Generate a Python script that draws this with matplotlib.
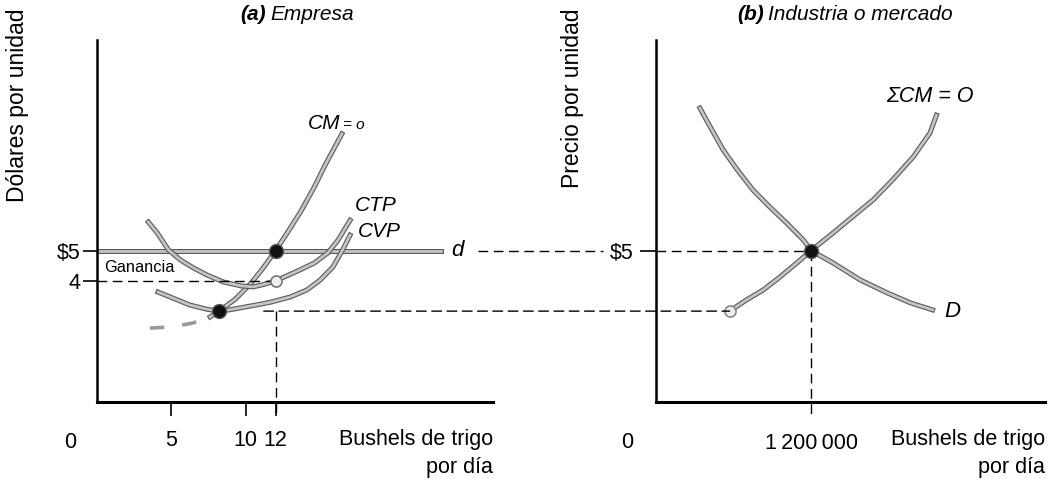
import matplotlib.pyplot as plt
import matplotlib.patheffects as pe
from matplotlib.patches import ConnectionPatch

plt.rcParams["font.family"] = ["Liberation Sans", "DejaVu Sans"]

# (a) empresa: cantidades en bushels/dia, precios en $
cm_x = [3.55, 5.1, 6.45, 7.6, 8.2, 9.3, 10.4, 11.2, 12.0, 12.8, 13.7, 14.6, 15.3, 15.9, 16.45]
cm_y = [2.44, 2.48, 2.61, 2.81, 3.0, 3.4, 3.95, 4.45, 5.0, 5.6, 6.3, 7.1, 7.8, 8.35, 8.85]
ctp_x = [3.45, 4.05, 4.8, 5.6, 6.5, 7.4, 8.5, 9.7, 10.5, 11.2, 12.0, 13.5, 14.6, 15.5, 16.2, 17.0]
ctp_y = [5.94, 5.58, 5.02, 4.69, 4.42, 4.19, 3.96, 3.83, 3.80, 3.88, 4.0, 4.33, 4.59, 4.92, 5.35, 6.0]
cvp_x = [4.1, 5.1, 6.25, 7.4, 8.2, 9.0, 10.1, 11.0, 11.7, 13.0, 14.1, 15.0, 15.85, 16.5, 17.0]
cvp_y = [3.63, 3.43, 3.20, 3.06, 3.0, 3.05, 3.15, 3.23, 3.30, 3.47, 3.70, 4.03, 4.46, 5.02, 5.51]
precio = 5
d_x = [0, 23.1]
q_firma = 12
ctp_q = 4
cvp_min = (8.2, 3.0)
xticks_a = [5, 10, 12]
yticks_a = [4, 5]
yticklabels_a = ["4", "$5"]

# (b) industria: cantidades en millones de bushels/dia
dem_x = [0.34, 0.42, 0.52, 0.63, 0.75, 0.88, 1.01, 1.14, 1.2, 1.37, 1.58, 1.79, 1.97, 2.14]
dem_y = [9.70, 9.08, 8.32, 7.66, 7.0, 6.44, 5.91, 5.35, 5.0, 4.59, 4.03, 3.60, 3.27, 3.04]
ofe_x = [0.57, 0.70, 0.83, 0.96, 1.09, 1.2, 1.37, 1.52, 1.68, 1.83, 1.99, 2.12, 2.17]
ofe_y = [3.0, 3.37, 3.70, 4.13, 4.59, 5.0, 5.58, 6.11, 6.67, 7.33, 8.09, 8.88, 9.47]
q_mercado = 1.2

fig = plt.figure(figsize=(10.62, 4.8), dpi=100)
ax1 = fig.add_axes([97 / 1062, 78 / 480, 396 / 1062, 362 / 480])
ax2 = fig.add_axes([656 / 1062, 78 / 480, 389 / 1062, 362 / 480])

curve = dict(color="#c4c4c4", lw=2.0, solid_joinstyle="round",
             path_effects=[pe.Stroke(linewidth=3.6, foreground="#5a5a5a"), pe.Normal()])
dash = dict(color="black", lw=1.0, dashes=(7, 4))
fs = 15.5

for ax in (ax1, ax2):
    ax.set_ylim(0, 11.95)
    for s in ("top", "right"):
        ax.spines[s].set_visible(False)
    ax.spines["left"].set_linewidth(1.8)
    ax.spines["bottom"].set_linewidth(2.2)
    ax.tick_params(axis="both", direction="out", length=10, width=1.2,
                   labelsize=fs, pad=2)
    ax.tick_params(axis="x", pad=10)

# ---- panel (a)
ax1.set_xlim(0, 26.6)
ax1.plot(d_x, [precio, precio], **curve)
ax1.plot(cm_x[:4], cm_y[:4], color="#9a9a9a", lw=2.6, dashes=(4, 5))
ax1.plot(cm_x[3:], cm_y[3:], **curve)
ax1.plot(ctp_x, ctp_y, **curve)
ax1.plot(cvp_x, cvp_y, **curve)

ax1.plot([0, q_firma], [ctp_q, ctp_q], **dash)
ax1.plot([q_firma, q_firma], [cvp_min[1], -0.45], clip_on=False, **dash)
ax1.plot([d_x[1] + 2.5, 34.0], [precio, precio], clip_on=False, **dash)

ax1.plot(q_firma, precio, "o", ms=10, color="#111111", mec="#555555")
ax1.plot(cvp_min[0], cvp_min[1], "o", ms=10, color="#111111", mec="#555555")
ax1.plot(q_firma, ctp_q, "o", ms=8, color="#eeeeee", mec="#777777", mew=1.2)

ax1.set_xticks(xticks_a)
ax1.set_xticklabels([str(t) for t in xticks_a])
ax1.set_yticks(yticks_a)
ax1.set_yticklabels(yticklabels_a)
ax1.annotate("0", (0, 0), xytext=(-27, -30), textcoords="offset pixels",
             ha="center", va="top", fontsize=fs, annotation_clip=False)

ax1.text(14.15, 9.2, "CM", fontsize=15, style="italic", va="center")
ax1.text(16.55, 9.15, "= o", fontsize=11, style="italic", va="center")
ax1.text(17.3, 6.5, "CTP", fontsize=15, style="italic", va="center")
ax1.text(17.5, 5.64, "CVP", fontsize=15, style="italic", va="center")
ax1.text(23.8, 5.0, "d", fontsize=16, style="italic", va="center")
ax1.text(0.45, 4.45, "Ganancia", fontsize=11.8, va="center")
ax1.text(1.0, -0.075, "Bushels de trigo\npor día", transform=ax1.transAxes,
         ha="right", va="top", fontsize=fs, linespacing=1.45)

# ---- panel (b)
ax2.set_xlim(0, 3.01)
ax2.plot(dem_x, dem_y, **curve)
ax2.plot(ofe_x, ofe_y, **curve)
ax2.plot([0, q_mercado], [precio, precio], **dash)
ax2.plot([q_mercado, q_mercado], [precio, -0.45], clip_on=False, **dash)
ax2.plot(q_mercado, precio, "o", ms=10, color="#111111", mec="#555555")
ax2.plot(ofe_x[0], ofe_y[0], "o", ms=8, color="#eeeeee", mec="#888888", mew=1.2)

link = ConnectionPatch(xyA=(q_firma - 0.8, cvp_min[1]), coordsA=ax1.transData,
                       xyB=(ofe_x[0], ofe_y[0]), coordsB=ax2.transData,
                       color="black", lw=1.0, linestyle=(0, (7, 4)))
fig.add_artist(link)

ax2.set_xticks([q_mercado])
ax2.set_xticklabels(["1\u2009200\u2009000"])
ax2.tick_params(axis="x", length=0, pad=22)
ax2.set_yticks([precio])
ax2.set_yticklabels(["$5"])
ax2.tick_params(axis="y", length=11.5, pad=5)
ax2.annotate("0", (0, 0), xytext=(-29, -30), textcoords="offset pixels",
             ha="center", va="top", fontsize=fs, annotation_clip=False)

ax2.text(1.78, 10.07, "ΣCM = O", fontsize=15.5, style="italic", va="center")
ax2.text(2.23, 3.0, "D", fontsize=16, style="italic", va="center")
ax2.text(1.0, -0.075, "Bushels de trigo\npor día", transform=ax2.transAxes,
         ha="right", va="top", fontsize=fs, linespacing=1.45)

# titulos y etiquetas de eje
ty = 1 - 15 / 480
fig.text(266 / 1062, ty, "(a)", ha="right", va="center",
         fontsize=15, style="italic", weight="bold")
fig.text(270 / 1062, ty, "Empresa", ha="left", va="center",
         fontsize=15, style="italic")
fig.text(764 / 1062, ty, "(b)", ha="right", va="center",
         fontsize=15, style="italic", weight="bold")
fig.text(768 / 1062, ty, "Industria o mercado", ha="left", va="center",
         fontsize=15, style="italic")
fig.text(18 / 1062, 1 - 8 / 480, "Dólares por unidad", rotation=90,
         ha="center", va="top", fontsize=16.5)
fig.text(573 / 1062, 1 - 8 / 480, "Precio por unidad", rotation=90,
         ha="center", va="top", fontsize=16.5)

fig.savefig("out.png", dpi=100)
